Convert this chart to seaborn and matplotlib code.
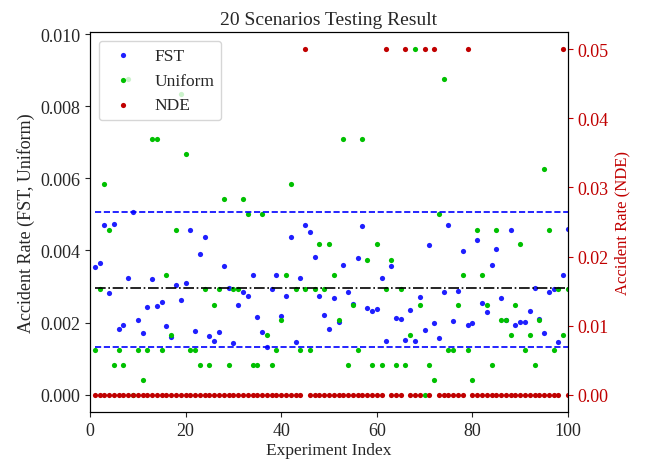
import numpy as np
import pandas as pd
import matplotlib
matplotlib.use("Agg")
import matplotlib.pyplot as plt
import seaborn as sns

# experiment index 1..100
experiment = list(range(1, 101))

# accident rates, in units of 1e-3
fst_rate = [
    3.55, 3.66, 4.72, 2.82, 4.73, 1.81, 1.93, 3.24, 5.06, 2.08,
    1.70, 2.43, 3.21, 2.47, 2.58, 1.90, 1.61, 3.04, 2.62, 3.09,
    4.58, 1.77, 3.91, 4.37, 1.62, 1.49, 1.75, 3.56, 2.96, 1.44,
    2.50, 2.84, 2.73, 3.31, 2.15, 1.74, 1.31, 2.93, 3.31, 2.19,
    2.73, 4.37, 1.47, 3.23, 4.71, 4.52, 3.82, 2.73, 2.20, 1.81,
    2.68, 2.02, 3.61, 2.86, 2.52, 3.78, 4.67, 2.40, 2.33, 2.39,
    3.23, 1.48, 3.58, 2.12, 2.10, 1.52, 2.34, 1.49, 2.71, 1.80,
    4.14, 2.00, 1.57, 2.86, 4.72, 2.04, 2.89, 3.99, 1.92, 2.00,
    4.30, 2.54, 2.30, 3.60, 4.05, 2.69, 2.08, 4.56, 1.94, 2.03,
    2.03, 2.33, 2.96, 2.10, 1.72, 2.85, 2.94, 1.45, 3.31, 4.59,
]
uniform_rate = [
    1.25, 2.92, 5.83, 4.58, 0.83, 1.25, 0.83, 8.75, 0.00, 1.25,
    0.42, 1.25, 7.08, 7.08, 1.25, 3.33, 1.67, 4.58, 8.33, 6.67,
    1.25, 1.25, 0.83, 2.92, 0.83, 2.50, 2.92, 5.42, 0.83, 2.92,
    2.92, 5.42, 5.00, 0.83, 0.83, 5.00, 1.67, 0.83, 1.25, 2.08,
    3.33, 5.83, 2.92, 1.25, 2.92, 1.25, 2.92, 4.17, 2.92, 4.17,
    3.33, 2.08, 7.08, 0.83, 2.50, 1.25, 7.08, 3.75, 0.83, 4.17,
    0.83, 2.92, 3.75, 0.83, 2.92, 0.83, 1.67, 9.58, 2.50, 0.00,
    0.83, 0.42, 5.00, 8.75, 1.25, 1.25, 2.50, 3.33, 1.25, 0.42,
    4.58, 3.33, 2.50, 0.83, 4.58, 2.08, 2.08, 1.67, 2.50, 4.17,
    1.25, 1.67, 0.83, 2.08, 6.25, 4.58, 1.25, 2.92, 1.67, 2.92,
]
# NDE accident rate (right axis)
nde_rate = [
    0, 0, 0, 0, 0, 0, 0, 0, 0, 0, 0, 0, 0, 0, 0, 0, 0, 0, 0, 0,
    0, 0, 0, 0, 0, 0, 0, 0, 0, 0, 0, 0, 0, 0, 0, 0, 0, 0, 0, 0,
    0, 0, 0, 0, 0.05, 0, 0, 0, 0, 0, 0, 0, 0, 0, 0, 0, 0, 0, 0, 0,
    0, 0.05, 0, 0, 0, 0.05, 0, 0, 0, 0.05, 0, 0.05, 0, 0, 0, 0, 0, 0, 0.05, 0,
    0, 0, 0, 0, 0, 0, 0, 0, 0, 0, 0, 0, 0, 0, 0, 0, 0, 0, 0.05, 0,
]

# reference lines (upper / mean / lower) for FST
fst_upper = 0.00506
fst_mean = 0.00297
fst_lower = 0.00131

df = pd.DataFrame({
    'experiment': experiment,
    'FST': np.array(fst_rate) * 1e-3,
    'Uniform': np.array(uniform_rate) * 1e-3,
    'NDE': nde_rate,
})

sns.set_style("ticks")
plt.rcParams['font.family'] = ['Liberation Serif', 'DejaVu Serif']

blue = '#1f1fff'
green = '#00c000'
red = '#c00000'

fig, ax = plt.subplots(figsize=(6.45, 4.64), dpi=100)
fig.subplots_adjust(left=0.1395, right=0.8806, top=0.9289, bottom=0.1099)

sns.scatterplot(data=df, x='experiment', y='FST', ax=ax, color=blue,
                s=14, linewidth=0, label='FST', legend=False)
sns.scatterplot(data=df, x='experiment', y='Uniform', ax=ax, color=green,
                s=14, linewidth=0, label='Uniform', legend=False)

ax.hlines([fst_upper, fst_lower], 1, 100, colors='b', linestyles='--', linewidth=1.2)
ax.hlines(fst_mean, 1, 100, colors='k', linestyles='-.', linewidth=1.2)

ax2 = ax.twinx()
sns.scatterplot(data=df, x='experiment', y='NDE', ax=ax2, color=red,
                s=14, linewidth=0, label='NDE', legend=False)

ax.set_xlim(0, 100)
ax.set_xticks([0, 20, 40, 60, 80, 100])
ax.set_yticks([0, 0.002, 0.004, 0.006, 0.008, 0.010])
ax.set_yticklabels(['0.000', '0.002', '0.004', '0.006', '0.008', '0.010'])
ax2.set_yticks([0, 0.01, 0.02, 0.03, 0.04, 0.05])
ax2.set_yticklabels(['0.00', '0.01', '0.02', '0.03', '0.04', '0.05'])

ax.tick_params(labelsize=13)
ax2.tick_params(axis='y', colors=red, labelsize=13)

ax.set_xlabel('Experiment Index', fontsize=12.5, labelpad=2)
ax.set_ylabel('Accident Rate (FST, Uniform)', fontsize=13)
ax2.set_ylabel('Accident Rate (NDE)', fontsize=12, color=red)
ax.set_title('20 Scenarios Testing Result', fontsize=14)

for a in (ax, ax2):
    for s in a.spines.values():
        s.set_visible(True)
        s.set_color('black')

h1, l1 = ax.get_legend_handles_labels()
h2, l2 = ax2.get_legend_handles_labels()
ax2.legend(h1 + h2, l1 + l2, loc='upper left', fontsize=12.5)

plt.savefig('out.png', dpi=100)
